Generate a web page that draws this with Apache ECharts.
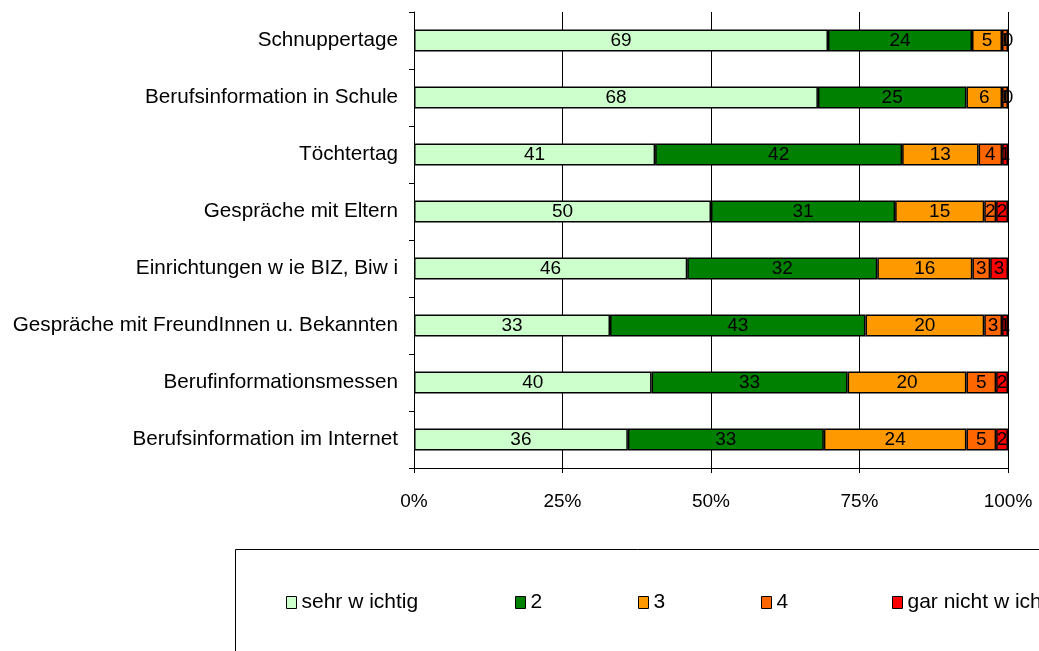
<!DOCTYPE html>
<html>
<head>
<meta charset="utf-8">
<script src="https://cdn.jsdelivr.net/npm/echarts@6/dist/echarts.min.js"></script>
<style>html,body{margin:0;padding:0;background:#fff}#c{width:1039px;height:651px}</style>
</head>
<body>
<div id="c"></div>
<script>
const categories = [
  "Schnuppertage",
  "Berufsinformation in Schule",
  "Töchtertag",
  "Gespräche mit Eltern",
  "Einrichtungen w ie BIZ, Biw i",
  "Gespräche mit FreundInnen u. Bekannten",
  "Berufinformationsmessen",
  "Berufsinformation im Internet"
];
const seriesNames = ["sehr w ichtig", "2", "3", "4", "gar nicht w ichtig"];
const sehrWichtig = [69, 68, 41, 50, 46, 33, 40, 36];
const wert2       = [24, 25, 42, 31, 32, 43, 33, 33];
const wert3       = [5, 6, 13, 15, 16, 20, 20, 24];
const wert4       = [1, 1, 4, 2, 3, 3, 5, 5];
const garNicht    = [0, 0, 1, 2, 3, 1, 2, 2];
const xTicks = [0, 25, 50, 75, 100];

const raw = [sehrWichtig, wert2, wert3, wert4, garNicht];
const colors = ["#CCFFCC", "#008000", "#FF9900", "#FF6600", "#FF0000"];
const totals = categories.map((_, i) => raw.reduce((s, arr) => s + arr[i], 0));
const FONT = "Liberation Sans, Arial, sans-serif";

const series = raw.map((arr, k) => ({
  name: seriesNames[k],
  type: "bar",
  stack: "all",
  barWidth: 22,
  data: arr.map((v, i) => ({ value: v / totals[i] * 100, raw: v })),
  itemStyle: { color: colors[k], borderColor: "#000", borderWidth: 1.5 },
  label: {
    show: true, position: "inside", color: "#000",
    fontFamily: FONT, fontSize: 19,
    formatter: p => String(p.data.raw)
  },
  emphasis: { disabled: true }
}));

const legendLeft = [286, 515, 638, 761, 892];
const legends = seriesNames.map((n, k) => ({
  data: [n], left: legendLeft[k], top: 592, padding: 0,
  itemWidth: 10, itemHeight: 12,
  icon: "rect",
  itemStyle: { borderColor: "#000", borderWidth: 1 },
  textStyle: { fontFamily: FONT, fontSize: 21, color: "#000" },
  selectedMode: false
}));

const chart = echarts.init(document.getElementById("c"), null, { renderer: "canvas" });
chart.setOption({
  animation: false,
  backgroundColor: "#fff",
  grid: { left: 414, right: 31, top: 12, bottom: 183, containLabel: false },
  xAxis: {
    type: "value", min: xTicks[0], max: xTicks[xTicks.length - 1], interval: 25,
    axisLine: { show: true, lineStyle: { color: "#000", width: 1 } },
    axisTick: { show: true, length: 5, lineStyle: { color: "#000" } },
    axisLabel: { formatter: "{value}%", fontFamily: FONT, fontSize: 19, color: "#000", margin: 24 },
    splitLine: { show: true, lineStyle: { color: "#000", width: 1 } }
  },
  yAxis: {
    type: "category", data: categories, inverse: true,
    axisLine: { show: true, lineStyle: { color: "#000", width: 1 } },
    axisTick: { show: true, length: 5, lineStyle: { color: "#000" } },
    axisLabel: { fontFamily: FONT, fontSize: 20.7, color: "#000", margin: 16 },
    splitLine: { show: false }
  },
  legend: legends,
  graphic: [{
    type: "rect", shape: { x: 235.5, y: 549.5, width: 900, height: 200 },
    style: { fill: "none", stroke: "#000", lineWidth: 1 }, z: -1
  }],
  series: series
});
</script>
</body>
</html>
